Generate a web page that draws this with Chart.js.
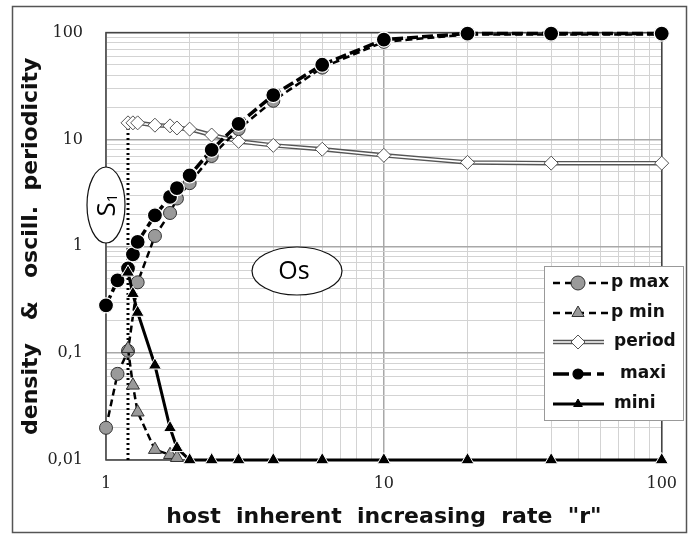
<!DOCTYPE html>
<html><head><meta charset="utf-8">
<script src="https://cdn.jsdelivr.net/npm/chart.js@4.4.1/dist/chart.umd.min.js"></script>
<style>html,body{margin:0;padding:0;background:#fff}#wrap{width:691px;height:539px;position:relative}</style>
</head><body><div id="wrap"><canvas id="c" width="691" height="539"></canvas></div>
<script>
// ---- data ----
const pMaxX   = [1, 1.1, 1.2, 1.3, 1.5, 1.7, 1.8, 2, 2.4, 3, 4, 6, 10, 20, 40, 100];
const pMaxY   = [0.02, 0.064, 0.105, 0.46, 1.25, 2.05, 2.8, 3.9, 7, 12.5, 23, 47, 82, 96, 96, 96];
const pMinX   = [1.2, 1.25, 1.3, 1.5, 1.7, 1.8];
const pMinY   = [0.11, 0.05, 0.028, 0.0125, 0.0112, 0.0105];
const periodX = [1.2, 1.25, 1.3, 1.5, 1.7, 1.8, 2, 2.4, 3, 4, 6, 10, 20, 40, 100];
const periodY = [14.3, 14.3, 14.3, 13.6, 13.4, 12.8, 12.5, 11, 9.6, 8.8, 8.1, 7.1, 6.1, 6.0, 6.0];
const maxiX   = [1, 1.1, 1.2, 1.25, 1.3, 1.5, 1.7, 1.8, 2, 2.4, 3, 4, 6, 10, 20, 40, 100];
const maxiY   = [0.28, 0.48, 0.62, 0.84, 1.1, 1.95, 2.9, 3.5, 4.6, 8, 14, 26, 50, 86, 98, 98, 98];
const miniX   = [1.2, 1.25, 1.3, 1.5, 1.7, 1.8, 2, 2.4, 3, 4, 6, 10, 20, 40, 100];
const miniY   = [0.57, 0.36, 0.24, 0.077, 0.02, 0.013, 0.01, 0.01, 0.01, 0.01, 0.01, 0.01, 0.01, 0.01, 0.01];
const limitX  = [1.2, 1.2];
const limitY  = [0.01, 14.3];

const xTickValues = [1, 10, 100];
const xTickLabels = ['1', '10', '100'];
const yTickValues = [0.01, 0.1, 1, 10, 100];
const yTickLabels = ['0,01', '0,1', '1', '10', '100'];

const seriesNames = ['p max', 'p min', 'period', 'maxi', 'mini'];

// ---- helpers ----
const pts = (xs, ys) => xs.map((x, i) => ({x: x, y: ys[i]}));
function decadeTicks(majors) {
  const out = [];
  for (let i = 0; i < majors.length; i++) {
    const base = majors[i];
    out.push({value: base});
    if (i < majors.length - 1) {
      for (let m = 2; m <= 9; m++) out.push({value: Number((base * m).toPrecision(6))});
    }
  }
  return out;
}
function isMajor(v, majors) { return majors.some(m => Math.abs(v - m) / m < 1e-6); }
function labelFor(v, values, labels) {
  const i = values.findIndex(m => Math.abs(v - m) / m < 1e-6);
  return i >= 0 ? labels[i] : '';
}

const datasets = [
  { label: 'mini', data: pts(miniX, miniY), borderColor: '#000', borderWidth: 3, clip: false,
    pointStyle: 'triangle', pointRadius: 7.5, pointBackgroundColor: '#000', pointBorderColor: '#fff', pointBorderWidth: 1 },
  { label: 'maxi', data: pts(maxiX, maxiY), borderColor: '#000', borderWidth: 3.5, borderDash: [11, 4], clip: false,
    pointStyle: 'circle', pointRadius: 7.5, pointBackgroundColor: '#000', pointBorderColor: '#fff', pointBorderWidth: 1.2 },
  { label: 'p min', data: pts(pMinX, pMinY), borderColor: '#000', borderWidth: 2.5, borderDash: [7, 4], clip: false,
    pointStyle: 'triangle', pointRadius: 7.5, pointBackgroundColor: '#9a9a9a', pointBorderColor: '#333', pointBorderWidth: 1 },
  { label: 'p max', data: pts(pMaxX, pMaxY), borderColor: '#000', borderWidth: 2.5, borderDash: [7, 4], clip: false,
    pointStyle: 'circle', pointRadius: 6.5, pointBackgroundColor: '#9a9a9a', pointBorderColor: '#333', pointBorderWidth: 1 },
  { label: 'period', data: pts(periodX, periodY), borderColor: '#fff', borderWidth: 1.6, clip: false,
    pointStyle: 'rectRot', pointRadius: 7, pointBackgroundColor: '#fff', pointBorderColor: '#555', pointBorderWidth: 1 },
  { label: 'period-edge', data: pts(periodX, periodY), borderColor: '#555', borderWidth: 4.5, pointRadius: 0, clip: false },
  { label: 'limit', data: pts(limitX, limitY), borderColor: '#000', borderWidth: 3, borderDash: [2, 3], pointRadius: 0 }
];

const framePlugin = {
  id: 'frame',
  beforeDraw(chart) {
    const ctx = chart.ctx;
    ctx.save();
    ctx.fillStyle = '#fff';
    ctx.fillRect(0, 0, chart.width, chart.height);
    ctx.restore();
  },
  beforeDatasetsDraw(chart) {
    const {ctx, chartArea: a} = chart;
    ctx.save();
    ctx.strokeStyle = '#444';
    ctx.lineWidth = 1.5;
    ctx.strokeRect(a.left, a.top, a.right - a.left, a.bottom - a.top);
    ctx.restore();
  },
  afterDraw(chart) {
    const ctx = chart.ctx;
    ctx.save();
    // outer frame
    ctx.strokeStyle = '#555';
    ctx.lineWidth = 1.5;
    ctx.strokeRect(12.5, 6.5, 674, 526);

    // S1 ellipse
    ctx.beginPath();
    ctx.ellipse(106, 205, 19, 38, 0, 0, Math.PI * 2);
    ctx.fillStyle = '#fff'; ctx.fill();
    ctx.strokeStyle = '#111'; ctx.lineWidth = 1.2; ctx.stroke();
    ctx.save();
    ctx.translate(106, 205);
    ctx.rotate(-Math.PI / 2);
    ctx.fillStyle = '#000';
    ctx.textBaseline = 'alphabetic';
    ctx.font = '26px "Open Sans"';
    const sW = ctx.measureText('S').width;
    ctx.font = '15px "Open Sans"';
    const oneW = ctx.measureText('1').width;
    const tot = sW + oneW;
    ctx.font = '26px "Open Sans"';
    ctx.textAlign = 'left';
    ctx.fillText('S', -tot / 2, 9);
    ctx.font = '15px "Open Sans"';
    ctx.fillText('1', -tot / 2 + sW, 11);
    ctx.restore();

    // Os ellipse
    ctx.beginPath();
    ctx.ellipse(297, 271, 45, 24, 0, 0, Math.PI * 2);
    ctx.fillStyle = '#fff'; ctx.fill();
    ctx.strokeStyle = '#111'; ctx.lineWidth = 1.2; ctx.stroke();
    ctx.fillStyle = '#000';
    ctx.font = '25px "Open Sans"';
    ctx.textAlign = 'center';
    ctx.textBaseline = 'middle';
    ctx.fillText('Os', 294, 272);

    // legend
    const lx = 544, ly = 266, lw = 139, lh = 154;
    ctx.fillStyle = '#fff';
    ctx.fillRect(lx, ly, lw, lh);
    ctx.strokeStyle = '#999'; ctx.lineWidth = 1;
    ctx.strokeRect(lx + 0.5, ly + 0.5, lw, lh);
    const rows = [283, 313, 342, 374, 404];
    const textX = [611, 611, 614, 620, 614];
    const x0 = 553, x1 = 604, xm = 578;
    const byLabel = {};
    chart.data.datasets.forEach(d => byLabel[d.label] = d);
    seriesNames.forEach((name, i) => {
      const y = rows[i];
      const d = byLabel[name];
      ctx.save();
      if (name === 'period') {
        ctx.strokeStyle = '#555'; ctx.lineWidth = 4.5;
        ctx.beginPath(); ctx.moveTo(x0, y); ctx.lineTo(x1, y); ctx.stroke();
        ctx.strokeStyle = '#fff'; ctx.lineWidth = 1.6;
        ctx.beginPath(); ctx.moveTo(x0, y); ctx.lineTo(x1, y); ctx.stroke();
      } else {
        ctx.strokeStyle = '#000'; ctx.lineWidth = d.borderWidth;
        if (name === 'p max' || name === 'p min') ctx.setLineDash([7, 5]);
        else if (name === 'maxi') ctx.setLineDash([16, 6]);
        ctx.beginPath(); ctx.moveTo(x0, y); ctx.lineTo(name.startsWith('p') ? x1 + 5 : x1, y); ctx.stroke();
        ctx.setLineDash([]);
      }
      const r = (name === 'maxi' || name === 'mini') ? 5 : 7;
      ctx.fillStyle = d.pointBackgroundColor;
      ctx.strokeStyle = (name === 'maxi' || name === 'mini') ? '#000' : d.pointBorderColor;
      ctx.lineWidth = d.pointBorderWidth;
      Chart.helpers.drawPoint(ctx, {
        pointStyle: d.pointStyle, radius: r, rotation: 0, borderWidth: d.pointBorderWidth
      }, xm, y);
      ctx.restore();
      ctx.fillStyle = '#111';
      ctx.font = 'bold 17px "DejaVu Sans"';
      ctx.textAlign = 'left';
      ctx.textBaseline = 'middle';
      ctx.fillText(name, textX[i], y);
    });
    ctx.restore();
  }
};

new Chart(document.getElementById('c'), {
  type: 'line',
  data: { datasets: datasets },
  options: {
    responsive: false,
    animation: false,
    events: [],
    layout: { padding: { left: 0, right: 25, top: 32, bottom: 0 } },
    plugins: { legend: { display: false }, tooltip: { enabled: false } },
    elements: { line: { tension: 0, fill: false } },
    scales: {
      x: {
        type: 'logarithmic', min: 1, max: 100,
        afterBuildTicks: s => { s.ticks = decadeTicks(xTickValues); },
        afterFit: s => { s.height = 79; },
        border: { display: false },
        grid: { drawTicks: false, lineWidth: c => isMajor(c.tick.value, xTickValues) ? 1.5 : 1,
                color: c => isMajor(c.tick.value, xTickValues) ? '#a8a8a8' : '#d3d3d3' },
        ticks: { autoSkip: false, maxRotation: 0, padding: 14, color: '#222',
                 font: { family: '"DejaVu Serif"', size: 16 },
                 callback: v => labelFor(v, xTickValues, xTickLabels) },
        title: { display: true, text: 'host  inherent  increasing  rate  "r"', color: '#111',
                 font: { family: '"DejaVu Sans"', weight: 'bold', size: 22 }, padding: { top: 0, bottom: 9 } }
      },
      y: {
        type: 'logarithmic', min: 0.01, max: 100,
        afterBuildTicks: s => { s.ticks = decadeTicks(yTickValues); },
        afterFit: s => { s.width = 106; },
        border: { display: false },
        grid: { drawTicks: false, lineWidth: c => isMajor(c.tick.value, yTickValues) ? 1.5 : 1,
                color: c => isMajor(c.tick.value, yTickValues) ? '#a8a8a8' : '#d3d3d3' },
        ticks: { autoSkip: false, padding: 23, color: '#222',
                 font: { family: '"DejaVu Serif"', size: 16 },
                 callback: v => labelFor(v, yTickValues, yTickLabels) },
        title: { display: true, text: 'density   &   oscill.  periodicity', color: '#111',
                 font: { family: '"DejaVu Sans"', weight: 'bold', size: 22 }, padding: { top: 18, bottom: 0 } }
      }
    }
  },
  plugins: [framePlugin]
});
</script>
</body></html>
